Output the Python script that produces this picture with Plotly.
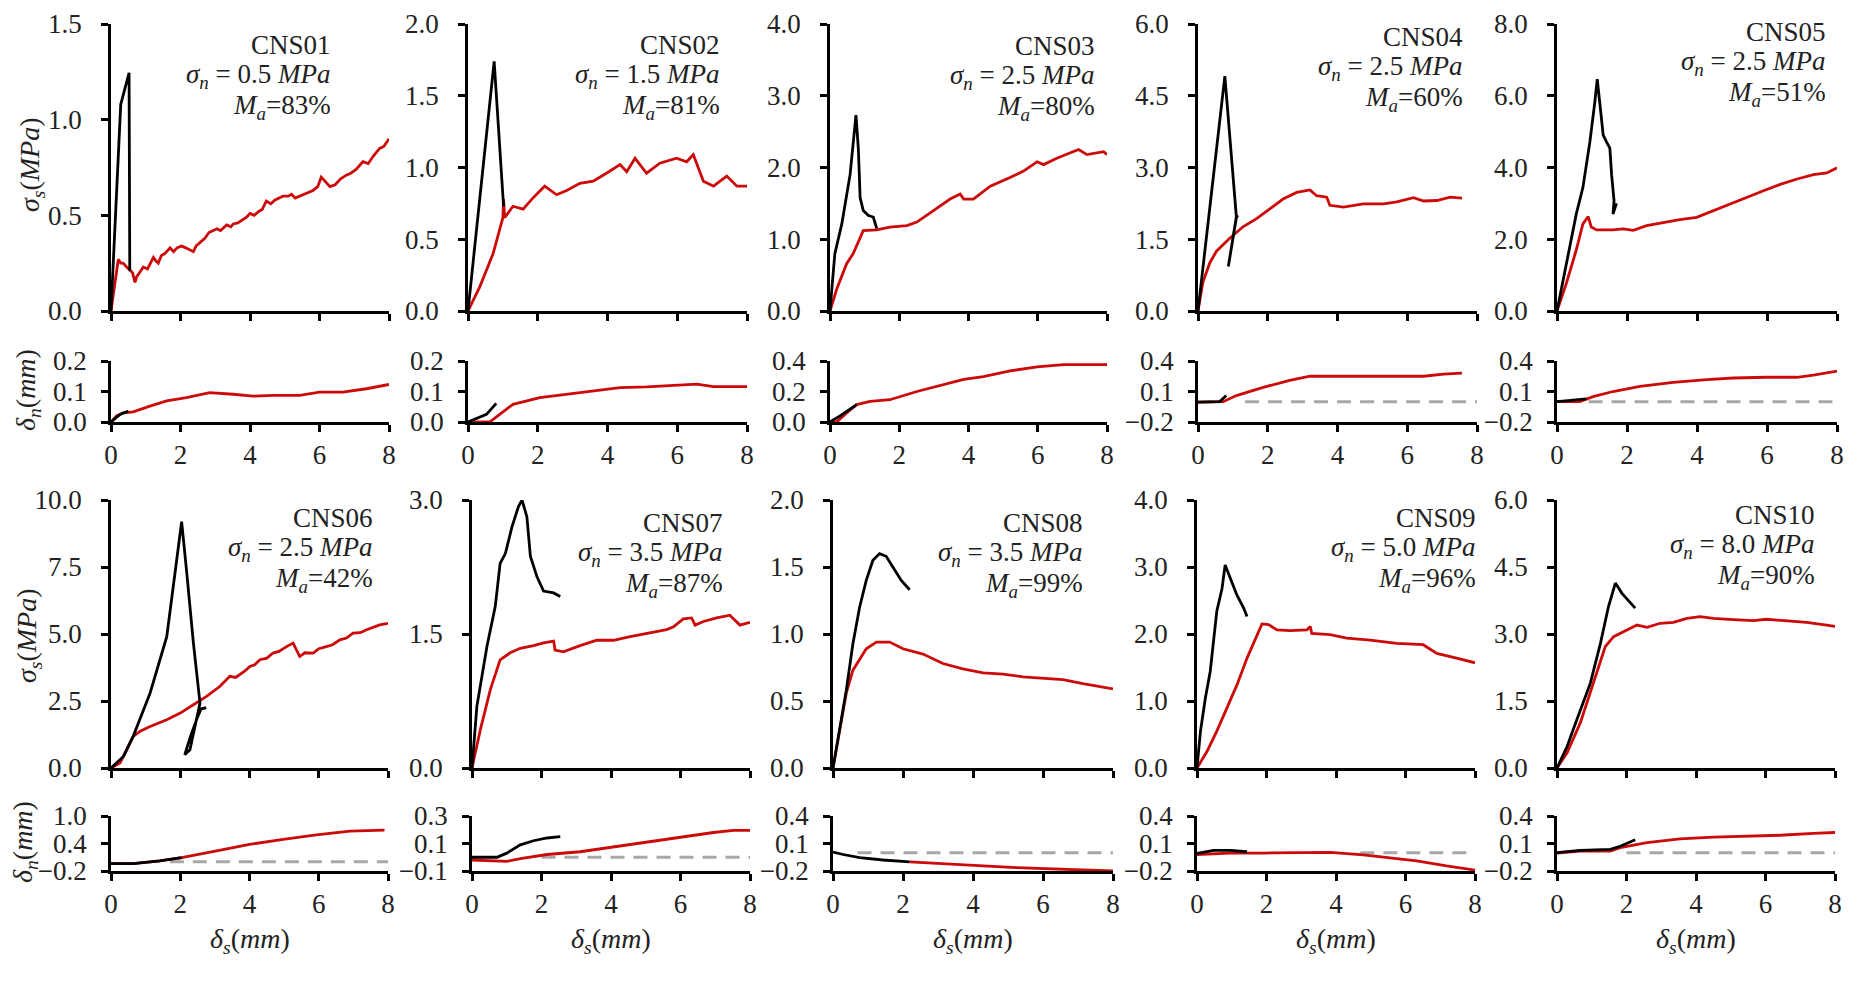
import plotly.graph_objects as go

W, H = 1858, 995
PAGE_PAD = 8  # the page body adds this offset around the figure

# panel labels and axis settings
tests = ["CNS01", "CNS02", "CNS03", "CNS04", "CNS05",
         "CNS06", "CNS07", "CNS08", "CNS09", "CNS10"]
sigma_n = ["0.5", "1.5", "2.5", "2.5", "2.5", "2.5", "3.5", "3.5", "5.0", "8.0"]
ma_pct = [83, 81, 80, 60, 51, 42, 87, 99, 96, 90]
tau_max = [1.5, 2.0, 4.0, 6.0, 8.0, 10.0, 3.0, 2.0, 4.0, 6.0]
tau_step = [0.5, 0.5, 1.0, 1.5, 2.0, 2.5, 1.5, 0.5, 1.0, 1.5]
dn_lo = [0.0, 0.0, 0.0, -0.2, -0.2, -0.2, -0.1, -0.2, -0.2, -0.2]
dn_hi = [0.2, 0.2, 0.4, 0.4, 0.4, 1.0, 0.3, 0.4, 0.4, 0.4]
dn_step = [0.1, 0.1, 0.2, 0.3, 0.3, 0.6, 0.2, 0.3, 0.3, 0.3]
dash_from = [None, None, None, 1.35, 0.9, 1.7, 2.0, 0.7, 4.7, 2.0]

# shear stress curves (delta_s, sigma_s): black and red
cns01_k_tau = [(0, 0), (0.28, 1.08), (0.52, 1.245), (0.54, 0.21)]
cns01_r_tau = [(0, 0), (0.1, 0.12), (0.21, 0.27), (0.28, 0.25), (0.35, 0.25), (0.45, 0.23),
               (0.55, 0.21), (0.62, 0.2), (0.69, 0.15), (0.74, 0.18), (0.82, 0.2), (0.93, 0.23),
               (1.05, 0.22), (1.15, 0.26), (1.22, 0.28), (1.3, 0.26), (1.36, 0.25), (1.45, 0.29),
               (1.55, 0.3), (1.7, 0.33), (1.8, 0.31), (1.9, 0.33), (2.03, 0.34), (2.15, 0.33),
               (2.25, 0.32), (2.37, 0.31), (2.45, 0.34), (2.56, 0.36), (2.7, 0.38), (2.82, 0.41),
               (2.94, 0.42), (3.05, 0.43), (3.15, 0.42), (3.33, 0.45), (3.45, 0.44), (3.52, 0.455),
               (3.65, 0.46), (3.8, 0.48), (3.9, 0.49), (4.0, 0.51), (4.12, 0.5), (4.25, 0.52),
               (4.35, 0.53), (4.47, 0.575), (4.6, 0.56), (4.72, 0.58), (4.85, 0.59), (4.95, 0.6),
               (5.1, 0.6), (5.2, 0.61), (5.3, 0.59), (5.43, 0.6), (5.55, 0.61), (5.7, 0.62),
               (5.81, 0.63), (5.95, 0.65), (6.05, 0.7), (6.15, 0.68), (6.3, 0.65), (6.45, 0.66),
               (6.6, 0.69), (6.77, 0.71), (6.9, 0.72), (7.05, 0.74), (7.25, 0.78), (7.4, 0.77),
               (7.55, 0.81), (7.73, 0.85), (7.85, 0.86), (8.0, 0.9)]
cns02_k_tau = [(0, 0), (0.75, 1.74), (1.02, 0.73)]
cns02_r_tau = [(0, 0), (0.34, 0.17), (0.72, 0.4), (1.0, 0.65), (1.02, 0.78), (1.05, 0.65),
               (1.29, 0.73), (1.58, 0.71), (1.87, 0.79), (2.2, 0.87), (2.54, 0.81), (2.83, 0.84),
               (3.21, 0.89), (3.59, 0.905), (3.97, 0.96), (4.36, 1.02), (4.55, 0.97), (4.79, 1.065),
               (5.12, 0.96), (5.5, 1.03), (5.98, 1.065), (6.27, 1.04), (6.46, 1.09), (6.75, 0.905),
               (7.04, 0.87), (7.42, 0.94), (7.71, 0.87), (8.0, 0.87)]
cns03_k_tau = [(0, 0), (0.14, 0.8), (0.34, 1.21), (0.58, 1.9), (0.75, 2.73), (0.82, 2.25),
               (0.87, 1.58), (0.96, 1.4), (1.11, 1.33), (1.25, 1.31), (1.35, 1.15)]
cns03_r_tau = [(0, 0), (0.19, 0.3), (0.48, 0.66), (0.67, 0.8), (0.96, 1.12), (1.35, 1.13),
               (1.73, 1.17), (2.22, 1.19), (2.51, 1.24), (2.89, 1.37), (3.47, 1.56), (3.76, 1.63),
               (3.86, 1.56), (4.14, 1.56), (4.63, 1.74), (5.2, 1.86), (5.59, 1.95), (5.98, 2.08),
               (6.17, 2.04), (6.55, 2.13), (6.94, 2.2), (7.18, 2.25), (7.42, 2.18), (7.71, 2.2),
               (7.9, 2.22), (8.0, 2.18)]
cns04_k_tau = [(0, 0), (0.77, 4.91), (1.1, 1.97), (0.87, 0.93), (1.1, 1.95), (1.14, 2.0)]
cns04_r_tau = [(0, 0), (0.14, 0.6), (0.34, 1.01), (0.53, 1.25), (0.91, 1.52), (1.29, 1.76),
               (1.68, 1.93), (2.06, 2.14), (2.44, 2.34), (2.83, 2.48), (3.21, 2.53), (3.4, 2.41),
               (3.69, 2.38), (3.78, 2.21), (4.17, 2.17), (4.74, 2.24), (5.32, 2.24), (5.7, 2.28),
               (6.18, 2.37), (6.47, 2.3), (6.85, 2.31), (7.23, 2.38), (7.57, 2.36)]
cns05_k_tau = [(0, 0), (0.27, 1.33), (0.55, 2.7), (0.74, 3.44), (0.94, 4.72), (1.08, 5.82),
               (1.15, 6.46), (1.22, 5.82), (1.32, 4.9), (1.41, 4.72), (1.51, 4.54), (1.56, 3.8),
               (1.63, 3.07), (1.6, 2.7), (1.7, 3.0)]
cns05_r_tau = [(0, 0), (0.27, 0.78), (0.55, 1.7), (0.74, 2.43), (0.89, 2.63), (0.98, 2.34),
               (1.13, 2.26), (1.6, 2.26), (1.89, 2.29), (2.18, 2.25), (2.56, 2.38), (3.04, 2.47),
               (3.51, 2.55), (3.99, 2.61), (4.47, 2.8), (4.95, 2.98), (5.42, 3.16), (5.9, 3.35),
               (6.38, 3.53), (6.86, 3.68), (7.33, 3.8), (7.71, 3.85), (8.0, 3.99)]
cns06_k_tau = [(0, 0), (0.36, 0.43), (0.64, 1.18), (1.13, 2.8), (1.61, 4.9), (2.0, 8.88),
               (2.04, 9.19), (2.18, 7.39), (2.38, 4.66), (2.57, 2.42), (2.28, 0.68), (2.13, 0.5),
               (2.3, 1.2), (2.47, 1.8), (2.6, 2.2), (2.75, 2.25)]
cns06_r_tau = [(0, 0), (0.26, 0.19), (0.45, 0.68), (0.64, 1.18), (0.84, 1.37), (1.13, 1.55),
               (1.61, 1.8), (2.0, 2.05), (2.38, 2.36), (2.76, 2.67), (3.14, 3.04), (3.43, 3.42),
               (3.6, 3.38), (3.72, 3.48), (3.85, 3.6), (4.01, 3.79), (4.15, 3.85), (4.3, 4.04),
               (4.5, 4.1), (4.68, 4.29), (4.85, 4.35), (5.07, 4.53), (5.26, 4.66), (5.45, 4.16),
               (5.6, 4.3), (5.84, 4.29), (6.0, 4.45), (6.22, 4.53), (6.4, 4.6), (6.61, 4.78),
               (6.8, 4.85), (6.99, 5.03), (7.2, 5.05), (7.38, 5.16), (7.55, 5.25), (7.76, 5.34),
               (8.0, 5.4)]
cns07_k_tau = [(0, 0), (0.14, 0.69), (0.43, 1.36), (0.67, 1.81), (0.81, 2.29), (0.96, 2.4),
               (1.15, 2.7), (1.34, 2.93), (1.44, 3.0), (1.58, 2.81), (1.68, 2.37), (1.87, 2.14),
               (2.06, 1.98), (2.35, 1.96), (2.54, 1.92)]
cns07_r_tau = [(0, 0), (0.24, 0.43), (0.53, 0.88), (0.81, 1.21), (1.1, 1.29), (1.39, 1.34),
               (1.77, 1.37), (2.06, 1.4), (2.35, 1.42), (2.39, 1.32), (2.63, 1.3), (3.11, 1.37),
               (3.59, 1.43), (4.07, 1.43), (4.55, 1.47), (5.03, 1.51), (5.6, 1.55), (5.8, 1.58),
               (6.08, 1.67), (6.32, 1.68), (6.42, 1.6), (6.66, 1.64), (7.04, 1.68), (7.42, 1.71),
               (7.71, 1.6), (8.0, 1.63)]
cns08_k_tau = [(0, 0), (0.19, 0.29), (0.38, 0.58), (0.57, 0.93), (0.76, 1.2), (0.95, 1.4),
               (1.14, 1.55), (1.33, 1.6), (1.52, 1.58), (1.71, 1.5), (1.95, 1.4), (2.19, 1.33)]
cns08_r_tau = [(0, 0), (0.19, 0.29), (0.38, 0.56), (0.57, 0.73), (0.86, 0.86), (0.95, 0.89),
               (1.24, 0.94), (1.62, 0.94), (2.0, 0.89), (2.57, 0.85), (3.14, 0.78), (3.71, 0.74),
               (4.29, 0.71), (4.86, 0.7), (5.43, 0.68), (6.0, 0.67), (6.57, 0.66), (7.14, 0.63),
               (7.71, 0.6), (8.0, 0.59)]
cns09_k_tau = [(0, 0), (0.1, 0.55), (0.24, 1.04), (0.38, 1.44), (0.57, 2.34), (0.72, 2.68),
               (0.81, 3.03), (0.96, 2.83), (1.15, 2.58), (1.34, 2.39), (1.44, 2.26)]
cns09_r_tau = [(0, 0), (0.29, 0.25), (0.57, 0.55), (0.86, 0.89), (1.15, 1.24), (1.44, 1.64),
               (1.72, 1.96), (1.87, 2.15), (2.06, 2.14), (2.3, 2.06), (2.68, 2.05), (3.16, 2.06),
               (3.26, 2.11), (3.3, 2.01), (3.83, 1.99), (4.31, 1.94), (4.98, 1.91), (5.75, 1.86),
               (6.51, 1.84), (6.9, 1.71), (7.47, 1.64), (8.0, 1.57)]
cns10_k_tau = [(0, 0), (0.29, 0.48), (0.57, 1.08), (0.96, 1.9), (1.25, 2.79), (1.48, 3.61),
               (1.68, 4.14), (1.87, 3.91), (2.25, 3.58)]
cns10_r_tau = [(0, 0), (0.29, 0.34), (0.67, 1.01), (1.05, 1.9), (1.39, 2.72), (1.63, 2.94),
               (1.92, 3.06), (2.3, 3.2), (2.59, 3.15), (2.97, 3.24), (3.35, 3.26), (3.74, 3.35),
               (4.12, 3.39), (4.5, 3.35), (5.08, 3.32), (5.65, 3.3), (6.03, 3.33), (6.61, 3.3),
               (7.18, 3.26), (7.76, 3.2), (8.0, 3.17)]

# normal displacement curves (delta_s, delta_n): black and red
cns01_k_dn = [(0, 0), (0.26, 0.025), (0.5, 0.036)]
cns01_r_dn = [(0, 0), (0.16, 0.02), (0.35, 0.03), (0.64, 0.033), (1.12, 0.052), (1.6, 0.069),
              (2.17, 0.08), (2.84, 0.096), (3.51, 0.091), (4.09, 0.085), (4.66, 0.087),
              (5.43, 0.087), (6.0, 0.098), (6.67, 0.098), (7.35, 0.109), (8.0, 0.123)]
cns02_k_dn = [(0, 0), (0.53, 0.025), (0.81, 0.061)]
cns02_r_dn = [(0, 0), (0.62, 0.0), (0.91, 0.025), (1.29, 0.058), (2.06, 0.08), (2.83, 0.091),
              (3.59, 0.1), (4.36, 0.113), (5.12, 0.115), (6.08, 0.12), (6.56, 0.124),
              (7.04, 0.116), (8.0, 0.116)]
cns03_k_dn = [(0, 0), (0.29, 0.04), (0.77, 0.114)]
cns03_r_dn = [(0, 0), (0.19, 0.0), (0.48, 0.06), (0.77, 0.114), (1.16, 0.135), (1.73, 0.146),
              (2.51, 0.2), (3.08, 0.232), (3.86, 0.28), (4.43, 0.297), (5.2, 0.335), (5.98, 0.361),
              (6.75, 0.376), (7.33, 0.376), (8.0, 0.376)]
cns04_k_dn = [(0, -0.005), (0.62, 0.0), (0.81, 0.06)]
cns04_r_dn = [(0, -0.005), (0.72, 0.0), (1.1, 0.06), (1.87, 0.14), (2.63, 0.21), (3.21, 0.25),
              (4.74, 0.25), (6.47, 0.25), (7.04, 0.27), (7.57, 0.28)]
cns05_k_dn = [(0, 0), (0.84, 0.027)]
cns05_r_dn = [(0, 0), (0.65, 0.0), (1.03, 0.05), (1.6, 0.1), (2.37, 0.15), (3.32, 0.19),
              (4.28, 0.217), (5.04, 0.233), (5.99, 0.24), (6.85, 0.24), (7.33, 0.26), (8.0, 0.3)]
cns06_k_dn = [(0, -0.04), (0.64, -0.04), (1.41, 0.02), (2.04, 0.09)]
cns06_r_dn = [(0, -0.04), (0.64, -0.04), (1.41, 0.02), (2.04, 0.09), (3.05, 0.24), (4.0, 0.38),
              (4.97, 0.49), (5.93, 0.59), (6.9, 0.67), (7.9, 0.69)]
cns07_k_dn = [(0, 0.0), (0.72, 0.0), (1.0, 0.03), (1.39, 0.09), (1.77, 0.12), (2.16, 0.14),
              (2.54, 0.15)]
cns07_r_dn = [(0, -0.02), (1.0, -0.03), (1.39, -0.01), (2.16, 0.02), (3.11, 0.04), (4.07, 0.075),
              (5.03, 0.115), (5.99, 0.15), (6.95, 0.18), (7.52, 0.195), (8.0, 0.195)]
cns08_k_dn = [(0, 0.007), (0.29, -0.02), (0.76, -0.055), (1.43, -0.08), (2.19, -0.1)]
cns08_r_dn = [(2.19, -0.1), (3.33, -0.127), (4.29, -0.145), (5.24, -0.164), (6.19, -0.175),
              (7.14, -0.19), (8.0, -0.2)]
cns09_k_dn = [(0, -0.007), (0.48, 0.025), (0.96, 0.025), (1.44, 0.01)]
cns09_r_dn = [(0, -0.02), (0.96, -0.004), (1.92, -0.004), (2.87, 0.0), (3.83, 0.004),
              (4.79, -0.025), (5.75, -0.062), (6.32, -0.09), (7.18, -0.145), (8.0, -0.19)]
cns10_k_dn = [(0, 0.0), (0.67, 0.025), (1.53, 0.036), (1.82, 0.07), (2.25, 0.14)]
cns10_r_dn = [(0, -0.004), (0.67, 0.018), (1.53, 0.018), (1.82, 0.055), (2.59, 0.11),
              (3.54, 0.15), (4.5, 0.17), (5.46, 0.18), (6.42, 0.19), (7.38, 0.21), (8.0, 0.22)]

k_tau = [cns01_k_tau, cns02_k_tau, cns03_k_tau, cns04_k_tau, cns05_k_tau,
         cns06_k_tau, cns07_k_tau, cns08_k_tau, cns09_k_tau, cns10_k_tau]
r_tau = [cns01_r_tau, cns02_r_tau, cns03_r_tau, cns04_r_tau, cns05_r_tau,
         cns06_r_tau, cns07_r_tau, cns08_r_tau, cns09_r_tau, cns10_r_tau]
k_dn = [cns01_k_dn, cns02_k_dn, cns03_k_dn, cns04_k_dn, cns05_k_dn,
        cns06_k_dn, cns07_k_dn, cns08_k_dn, cns09_k_dn, cns10_k_dn]
r_dn = [cns01_r_dn, cns02_r_dn, cns03_r_dn, cns04_r_dn, cns05_r_dn,
        cns06_r_dn, cns07_r_dn, cns08_r_dn, cns09_r_dn, cns10_r_dn]

# panel placement in screen pixels
x_left = [111, 468, 830, 1198, 1557, 111, 472, 833, 1197, 1557]
x_right = [389, 747, 1107, 1477, 1837, 388, 750, 1113, 1475, 1835]
top_band = [(24, 311), (500, 768)]
bot_band = [(361, 422), (816, 871)]
txt_right = [333, 722, 1097, 1465, 1828, 375, 725, 1085, 1478, 1817]
txt_top = [45, 45, 46, 37, 32, 518, 523, 523, 518, 515]

RED = "#CC0A0A"
SERIF = "Liberation Serif"


def px(x):
    return (x - PAGE_PAD) / W


def py(y):
    return 1 - (y - PAGE_PAD) / H


axis_style = dict(showline=True, linecolor="black", linewidth=2.5, ticks="outside",
                  ticklen=7, tickwidth=2.5, tickcolor="black", showgrid=False,
                  zeroline=False, automargin=False, ticklabeloverflow="allow",
                  tickfont=dict(family=SERIF, size=27, color="#222"))


def ax_id(n):
    return "" if n == 1 else str(n)


fig = go.Figure()
layout = {}
annotations = []

for k in range(10):
    row = k // 5
    nt, nb = 2 * k + 1, 2 * k + 2
    xt, xb = "x" + ax_id(nt), "x" + ax_id(nb)
    yt, yb = "y" + ax_id(nt), "y" + ax_id(nb)
    xdom = [px(x_left[k]), px(x_right[k])]
    t0, t1 = top_band[row]
    b0, b1 = bot_band[row]

    layout["xaxis" + ax_id(nt)] = dict(domain=xdom, anchor=yt, range=[0, 8], tick0=0, dtick=2,
                                       showticklabels=False, **axis_style)
    layout["yaxis" + ax_id(nt)] = dict(domain=[py(t1), py(t0)], anchor=xt,
                                       range=[0, tau_max[k]], tick0=0, dtick=tau_step[k],
                                       tickformat=".1f", ticklabelstandoff=14, **axis_style)
    layout["xaxis" + ax_id(nb)] = dict(domain=xdom, anchor=yb, range=[0, 8], tick0=0, dtick=2,
                                       ticklabelstandoff=0, **axis_style)
    layout["yaxis" + ax_id(nb)] = dict(domain=[py(b1), py(b0)], anchor=xb,
                                       range=[dn_lo[k], dn_hi[k]], tick0=dn_lo[k],
                                       dtick=dn_step[k], tickformat=".1f",
                                       ticklabelstandoff=9, **axis_style)

    # zero reference line
    if dash_from[k] is not None:
        fig.add_trace(go.Scatter(x=[dash_from[k], 8], y=[0, 0], mode="lines", xaxis=xb, yaxis=yb,
                                 line=dict(color="#A8A8A8", width=3, dash="14px,9px"),
                                 hoverinfo="skip"))

    for pts, color, xa, ya in [(r_tau[k], RED, xt, yt), (k_tau[k], "black", xt, yt),
                               (r_dn[k], RED, xb, yb), (k_dn[k], "black", xb, yb)]:
        xs, ys = zip(*pts)
        fig.add_trace(go.Scatter(x=list(xs), y=list(ys), mode="lines", xaxis=xa, yaxis=ya,
                                 line=dict(color=color, width=2.8)))

    # text block
    lines = [tests[k],
             f"<i>σ<sub>n</sub></i> = {sigma_n[k]} <i>MPa</i>",
             f"<i>M<sub>a</sub></i>={ma_pct[k]}%"]
    for j, txt in enumerate(lines):
        annotations.append(dict(text=txt, xref="paper", yref="paper", showarrow=False,
                                x=px(txt_right[k]), y=py(txt_top[k] + j * 31),
                                xanchor="right", yanchor="middle",
                                font=dict(family=SERIF, size=27, color="#222")))

    if row == 1:
        annotations.append(dict(text="<i>δ<sub>s</sub></i>(<i>mm</i>)", xref="paper",
                                yref="paper", showarrow=False,
                                x=px((x_left[k] + x_right[k]) / 2), y=py(940),
                                xanchor="center", yanchor="middle",
                                font=dict(family=SERIF, size=28, color="#222")))

# axis titles on the left column
for ytxt, xp, yp in [("<i>σ<sub>s</sub></i>(<i>MPa</i>)", 32, 165),
                     ("<i>δ<sub>n</sub></i>(<i>mm</i>)", 28, 390),
                     ("<i>σ<sub>s</sub></i>(<i>MPa</i>)", 28, 636),
                     ("<i>δ<sub>n</sub></i>(<i>mm</i>)", 24, 842)]:
    annotations.append(dict(text=ytxt, xref="paper", yref="paper", showarrow=False,
                            x=px(xp), y=py(yp), textangle=-90,
                            xanchor="center", yanchor="middle",
                            font=dict(family=SERIF, size=28, color="#222")))

fig.update_layout(**layout)
fig.update_layout(width=W, height=H, margin=dict(l=0, r=0, t=0, b=0, autoexpand=False),
                  paper_bgcolor="white", plot_bgcolor="white", showlegend=False,
                  annotations=annotations)

fig.write_html("out.html")
